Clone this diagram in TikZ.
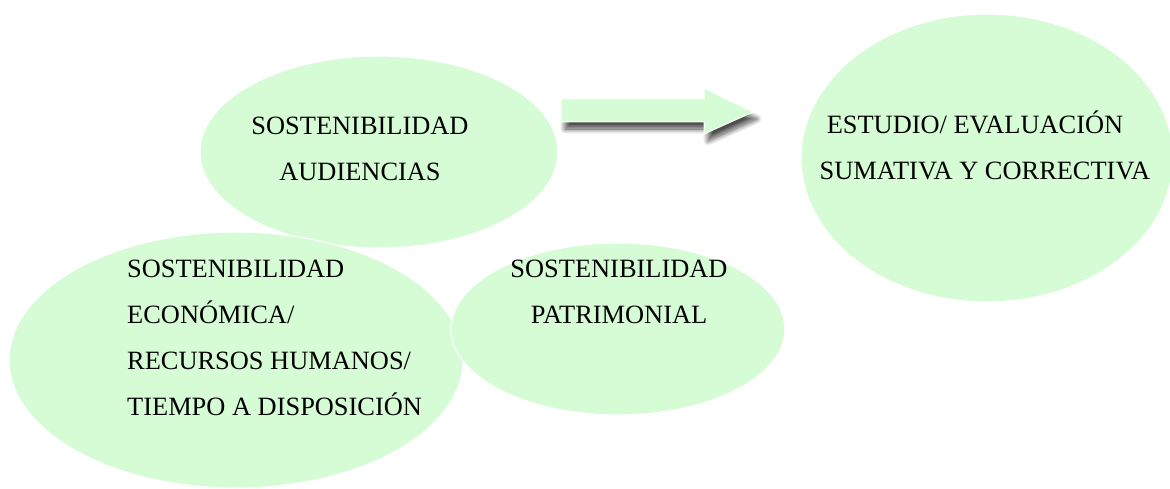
\documentclass[tikz,border=0pt]{standalone}
\usepackage{fontspec}
\setmainfont{Liberation Serif}
\usetikzlibrary{shapes.geometric,shadows.blur}
\definecolor{blobgreen}{HTML}{D5FCD5}
\tikzset{
  blob/.style={ellipse, fill=blobgreen, draw=white, line width=1.2pt, inner sep=0pt},
  lbl/.style={inner sep=0pt, font=\fontsize{26.4}{46}\selectfont, text=black},
}
\begin{document}
\begin{tikzpicture}[x=1pt,y=-1pt]
\useasboundingbox (0,0) rectangle (1170,489);
% ellipses
\node[blob, minimum width=358pt, minimum height=192pt] (aud) at (379,152) {};
\node[blob, minimum width=454pt, minimum height=256pt] (eco) at (236,360) {};
\node[blob, minimum width=334pt, minimum height=172pt] (pat) at (618,329) {};
\node[blob, minimum width=372pt, minimum height=288pt] (est) at (987,158) {};
% block arrow
\path[fill=blobgreen, draw=white, line width=1pt,
      blur shadow={shadow xshift=4pt, shadow yshift=-7pt, shadow blur radius=5pt, shadow blur steps=12, shadow opacity=70}]
  (561,99) -- (704,99) -- (704,88) -- (753,112) -- (704,134) -- (704,122) -- (561,122) -- cycle;
% labels
\node[lbl, align=center, anchor=south] (taud) at (360,181) {SOSTENIBILIDAD\\AUDIENCIAS};
\node[lbl, align=left, anchor=south west] (teco) at (127,416) {SOSTENIBILIDAD\\ECONÓMICA/\\RECURSOS HUMANOS/\\TIEMPO A DISPOSICIÓN};
\node[lbl, align=center, anchor=south] (tpat) at (619,324) {SOSTENIBILIDAD\\PATRIMONIAL};
\node[lbl, align=center, anchor=south] (test) at (985,180) {ESTUDIO/ EVALUACIÓN\hspace*{20pt}\\SUMATIVA Y CORRECTIVA};
\end{tikzpicture}
\end{document}
